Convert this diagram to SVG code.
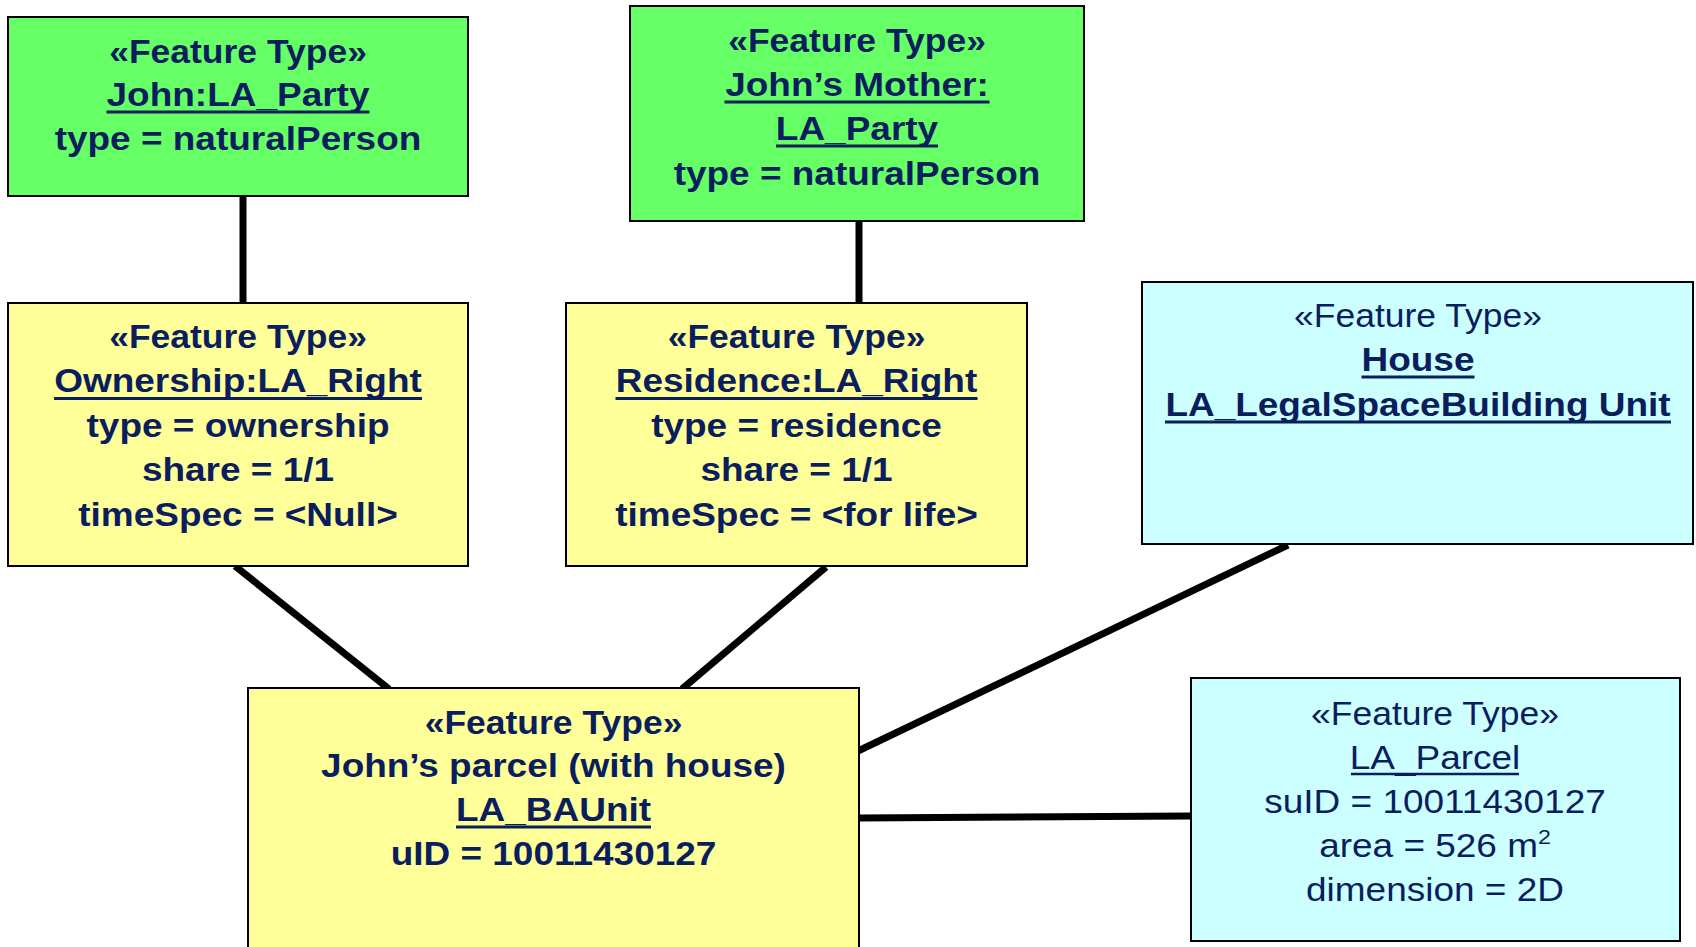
<svg xmlns="http://www.w3.org/2000/svg" width="1696" height="947" viewBox="0 0 1696 947">
<style>
.box{stroke:#000;stroke-width:2}
.g{fill:#66ff66}.y{fill:#ffff99}.c{fill:#ccffff}
text{font-family:"Liberation Sans",Arial,sans-serif;font-size:33.5px;fill:#0a1e5e;text-anchor:middle}
.b{font-weight:bold}
.ul{stroke:#0a1e5e;stroke-width:3}
#connectors line{stroke:#000;stroke-width:7}
</style>
<rect width="1696" height="947" fill="#fff"/>
<g id="connectors">
<line x1="243" y1="196" x2="243" y2="304"/>
<line x1="859" y1="220" x2="859" y2="304"/>
<line x1="235" y1="566" x2="389" y2="689"/>
<line x1="826" y1="567" x2="682" y2="689"/>
<line x1="1288" y1="545" x2="858" y2="751"/>
<line x1="859" y1="818" x2="1191" y2="816"/>
</g>
<g id="john">
<rect class="box g" x="8" y="17" width="460" height="179"/>
<g transform="translate(238 0) scale(1.104 1)">
<text class="b" x="0" y="63" transform="scale(0.96 1)">«Feature Type»</text>
<text class="b" x="0" y="106">John:LA_Party</text>
<text class="b" x="0" y="150">type = naturalPerson</text>
</g>
<line class="ul" x1="106.5" y1="112" x2="369.5" y2="112"/>
</g>
<g id="mother">
<rect class="box g" x="630" y="6" width="454" height="215"/>
<g transform="translate(857 0) scale(1.104 1)">
<text class="b" x="0" y="52" transform="scale(0.96 1)">«Feature Type»</text>
<text class="b" x="0" y="96">John’s Mother:</text>
<text class="b" x="0" y="140">LA_Party</text>
<text class="b" x="0" y="185">type = naturalPerson</text>
</g>
<line class="ul" x1="724.5" y1="102" x2="989.5" y2="102"/>
<line class="ul" x1="776" y1="146" x2="938" y2="146"/>
</g>
<g id="ownership">
<rect class="box y" x="8" y="303" width="460" height="263"/>
<g transform="translate(238 0) scale(1.104 1)">
<text class="b" x="0" y="348" transform="scale(0.96 1)">«Feature Type»</text>
<text class="b" x="0" y="392.5">Ownership:LA_Right</text>
<text class="b" x="0" y="437">type = ownership</text>
<text class="b" x="0" y="481.5">share = 1/1</text>
<text class="b" x="0" y="526">timeSpec = &lt;Null&gt;</text>
</g>
<line class="ul" x1="54" y1="398.5" x2="422" y2="398.5"/>
</g>
<g id="residence">
<rect class="box y" x="566" y="303" width="461" height="263"/>
<g transform="translate(796.5 0) scale(1.104 1)">
<text class="b" x="0" y="348" transform="scale(0.96 1)">«Feature Type»</text>
<text class="b" x="0" y="392.5">Residence:LA_Right</text>
<text class="b" x="0" y="437">type = residence</text>
<text class="b" x="0" y="481.5">share = 1/1</text>
<text class="b" x="0" y="526">timeSpec = &lt;for life&gt;</text>
</g>
<line class="ul" x1="615.5" y1="398.5" x2="977.5" y2="398.5"/>
</g>
<g id="house">
<rect class="box c" x="1142" y="282" width="551" height="262"/>
<g transform="translate(1418 0) scale(1.104 1)">
<text x="0" y="327" transform="scale(0.96 1)">«Feature Type»</text>
<text class="b" x="0" y="371">House</text>
<text class="b" x="0" y="416">LA_LegalSpaceBuilding Unit</text>
</g>
<line class="ul" x1="1361.5" y1="377" x2="1474.5" y2="377"/>
<line class="ul" x1="1165" y1="422" x2="1671" y2="422"/>
</g>
<g id="baunit">
<rect class="box y" x="248" y="688" width="611" height="270"/>
<g transform="translate(553.5 0) scale(1.104 1)">
<text class="b" x="0" y="734" transform="scale(0.96 1)">«Feature Type»</text>
<text class="b" x="0" y="777.5">John’s parcel (with house)</text>
<text class="b" x="0" y="821">LA_BAUnit</text>
<text class="b" x="0" y="865">uID = 10011430127</text>
</g>
<line class="ul" x1="456" y1="827" x2="651" y2="827"/>
</g>
<g id="parcel">
<rect class="box c" x="1191" y="678" width="489" height="263"/>
<g transform="translate(1435 0) scale(1.104 1)">
<text x="0" y="725" transform="scale(0.96 1)">«Feature Type»</text>
<text x="0" y="769">LA_Parcel</text>
<text x="0" y="813">suID = 10011430127</text>
<text x="0" y="857">area = 526 m<tspan font-size="21" dy="-13">2</tspan></text>
<text x="0" y="901">dimension = 2D</text>
</g>
<line class="ul" x1="1351" y1="774" x2="1519" y2="774" style="stroke-width:2.5"/>
</g>
</svg>
